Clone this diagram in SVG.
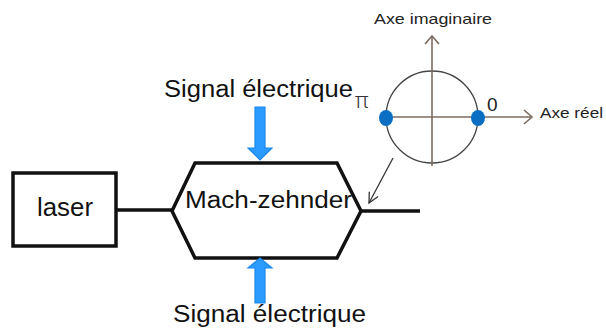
<svg xmlns="http://www.w3.org/2000/svg" width="606" height="331" viewBox="0 0 606 331">
<style>
.blk{fill:none;stroke:#111;stroke-width:3.5;stroke-linejoin:miter}
.big{font-family:"Liberation Sans",Arial,sans-serif;font-size:23px;fill:#111}
.sm{font-family:"Liberation Sans",Arial,sans-serif;font-size:15px;fill:#222}
.mid{font-family:"Liberation Sans",Arial,sans-serif;font-size:19px;fill:#222}
.pi{font-family:"Noto Sans",sans-serif;font-size:22px;font-weight:300;fill:#333}
.ax{fill:none;stroke:#7d6b62;stroke-width:1.6}
.blue{fill:#2b9bff;stroke:#1a88f0;stroke-width:1.2}
.dot{fill:#0a6fc2}
</style>
<defs>
<marker id="open" viewBox="0 0 12 12" refX="11" refY="6" markerWidth="12" markerHeight="12" markerUnits="userSpaceOnUse" orient="auto">
<path d="M1,1 L11,6 L1,11" fill="none" stroke="#333" stroke-width="1.3"/>
</marker>
</defs>
<g id="laser">
<rect class="blk" x="13" y="173" width="103" height="73"/>
<text class="big" x="37" y="216" style="font-size:25px" textLength="56" lengthAdjust="spacingAndGlyphs">laser</text>
</g>
<g id="mach-zehnder">
<polygon class="blk" points="195,163 337,163 361,211 337,258 195,258 172,211"/>
<text class="big" x="185" y="208" textLength="167" lengthAdjust="spacingAndGlyphs">Mach-zehnder</text>
</g>
<g id="signal-top">
<text class="big" x="164" y="97" textLength="189" lengthAdjust="spacingAndGlyphs">Signal électrique</text>
<polygon class="blue" points="255,107 265,107 265,148 272,148 260,160 248,148 255,148"/>
</g>
<g id="signal-bottom">
<text class="big" x="173" y="322" textLength="193" lengthAdjust="spacingAndGlyphs">Signal électrique</text>
<polygon class="blue" points="255,303 265,303 265,268 272,268 260,258 248,268 255,268"/>
</g>
<g id="phase-diagram">
<circle cx="432" cy="117" r="46" fill="none" stroke="#444" stroke-width="1.3"/>
<line class="ax" x1="380" y1="117" x2="532" y2="117"/>
<polyline class="ax" points="524,110 532,117 524,124"/>
<line class="ax" x1="432" y1="166" x2="432" y2="36"/>
<polyline class="ax" points="425,44 432,36 439,44"/>
<ellipse class="dot" cx="386" cy="118" rx="7" ry="8"/>
<ellipse class="dot" cx="478" cy="118" rx="7" ry="8"/>
<text class="sm" x="374" y="24" textLength="118" lengthAdjust="spacingAndGlyphs">Axe imaginaire</text>
<text class="sm" x="540" y="118" textLength="63" lengthAdjust="spacingAndGlyphs">Axe réel</text>
<text class="pi" x="355" y="108">π</text>
<text class="mid" x="487" y="111">0</text>
</g>
<g id="connectors">
<line class="blk" x1="116" y1="210" x2="172" y2="210"/>
<line class="blk" x1="361" y1="211" x2="420" y2="211"/>
<line x1="393" y1="158" x2="369" y2="203" stroke="#333" stroke-width="1.3" marker-end="url(#open)"/>
</g>
</svg>
